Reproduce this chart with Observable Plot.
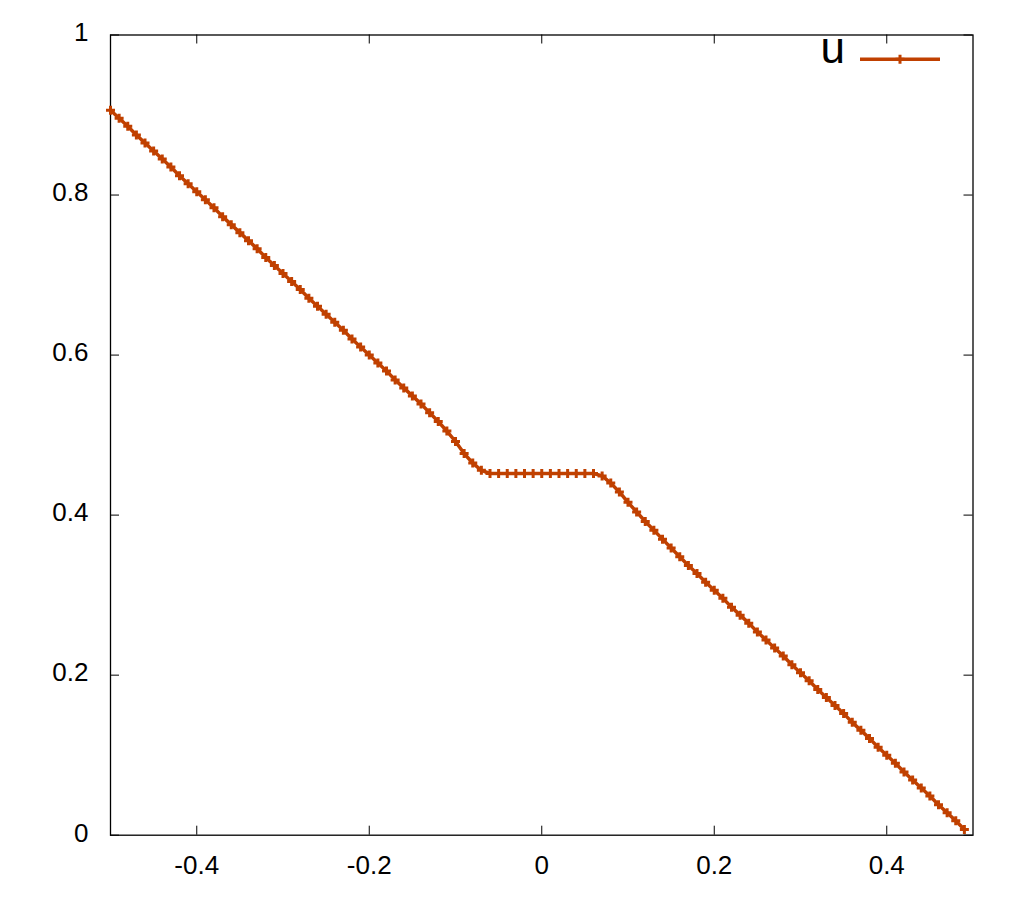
<!DOCTYPE html>
<html><head><meta charset="utf-8">
<script src="https://cdn.jsdelivr.net/npm/d3@7"></script>
<script src="https://cdn.jsdelivr.net/npm/@observablehq/plot@0.6"></script>
<style>body{margin:0;background:#fff;}</style>
</head><body><div id="chart"></div>
<script>
const xs = [
 -0.50,-0.49,-0.48,-0.47,-0.46,-0.45,-0.44,-0.43,-0.42,-0.41,
 -0.40,-0.39,-0.38,-0.37,-0.36,-0.35,-0.34,-0.33,-0.32,-0.31,
 -0.30,-0.29,-0.28,-0.27,-0.26,-0.25,-0.24,-0.23,-0.22,-0.21,
 -0.20,-0.19,-0.18,-0.17,-0.16,-0.15,-0.14,-0.13,-0.12,-0.11,
 -0.10,-0.09,-0.08,-0.07,-0.06,-0.05,-0.04,-0.03,-0.02,-0.01,
  0.00, 0.01, 0.02, 0.03, 0.04, 0.05, 0.06, 0.07, 0.08, 0.09,
  0.10, 0.11, 0.12, 0.13, 0.14, 0.15, 0.16, 0.17, 0.18, 0.19,
  0.20, 0.21, 0.22, 0.23, 0.24, 0.25, 0.26, 0.27, 0.28, 0.29,
  0.30, 0.31, 0.32, 0.33, 0.34, 0.35, 0.36, 0.37, 0.38, 0.39,
  0.40, 0.41, 0.42, 0.43, 0.44, 0.45, 0.46, 0.47, 0.48, 0.49
];
const uValues = [
 0.906,0.896,0.886,0.875,0.865,0.855,0.845,0.835,0.824,0.814,
 0.804,0.794,0.784,0.773,0.763,0.753,0.743,0.733,0.722,0.712,
 0.702,0.692,0.682,0.671,0.661,0.651,0.641,0.631,0.620,0.610,
 0.600,0.590,0.580,0.569,0.559,0.549,0.539,0.528,0.517,0.505,
 0.492,0.477,0.465,0.456,0.452,0.452,0.452,0.452,0.452,0.452,
 0.452,0.452,0.452,0.452,0.452,0.452,0.452,0.449,0.440,0.429,
 0.416,0.404,0.392,0.381,0.370,0.359,0.348,0.337,0.327,0.316,
 0.306,0.296,0.285,0.275,0.265,0.254,0.244,0.234,0.224,0.213,
 0.203,0.193,0.182,0.172,0.162,0.152,0.141,0.131,0.121,0.110,
 0.100,0.090,0.079,0.069,0.059,0.049,0.038,0.028,0.018,0.007
];
const xTicks = [-0.4, -0.2, 0, 0.2, 0.4];
const yTicks = [0, 0.2, 0.4, 0.6, 0.8, 1];
const seriesName = "u";

const data = xs.map((x, i) => ({x, u: uValues[i]}));

const W = 1024, H = 900, mL = 110, mR = 51.5, mT = 34.5, mB = 65.3;
const pw = W - mL - mR, ph = H - mT - mB;
const color = "#c04000";
const font = "'Liberation Sans', Arial, sans-serif";
const plus = {draw(ctx, size) {
  const r = Math.sqrt(size / Math.PI);
  ctx.moveTo(-r, 0); ctx.lineTo(r, 0);
  ctx.moveTo(0, -r); ctx.lineTo(0, r);
}};

const chart = Plot.plot({
  width: W, height: H,
  marginLeft: mL, marginRight: mR, marginTop: mT, marginBottom: mB,
  style: {fontFamily: font, fontSize: "26px", background: "#fff", color: "#000"},
  x: {domain: [-0.5, 0.5]},
  y: {domain: [0, 1]},
  marks: [
    Plot.axisX(xTicks, {tickSize: 0, tickPadding: 20, fontSize: 26, fontFamily: font, fill: "#000",
      tickFormat: d => String(d), label: null}),
    Plot.axisY(yTicks, {tickSize: 0, tickPadding: 22, dy: -2, fontSize: 26, fontFamily: font, fill: "#000",
      tickFormat: d => String(d), label: null}),
    Plot.tickX(xTicks, {x: d => d, insetTop: ph - 9, stroke: "#000"}),
    Plot.tickX(xTicks, {x: d => d, insetBottom: ph - 9, stroke: "#000"}),
    Plot.tickY(yTicks, {y: d => d, insetRight: pw - 9, stroke: "#000"}),
    Plot.tickY(yTicks, {y: d => d, insetLeft: pw - 9, stroke: "#000"}),
    Plot.frame({stroke: "#000", strokeWidth: 1.3}),
    Plot.line(data, {x: "x", y: "u", stroke: color, strokeWidth: 3.5}),
    Plot.dot(data, {x: "x", y: "u", symbol: plus, r: 4.5, stroke: color, strokeWidth: 3, fill: "none"})
  ]
});

// legend (key) in the top-right corner, gnuplot style
const svg = d3.select(chart);
const g = svg.append("g");
const legY = 59.3, lx1 = W - mR - 112.5, lx2 = W - mR - 32.5, lxm = (lx1 + lx2) / 2;
g.append("text").attr("x", lx1 - 15).attr("y", 63).attr("text-anchor", "end")
  .attr("font-size", 44).attr("font-family", font).attr("fill", "#000").text(seriesName);
g.append("line").attr("x1", lx1).attr("x2", lx2).attr("y1", legY).attr("y2", legY)
  .attr("stroke", color).attr("stroke-width", 3.5);
g.append("path").attr("d", `M${lxm},${legY - 4.5}v9M${lxm - 4.5},${legY}h9`)
  .attr("stroke", color).attr("stroke-width", 3).attr("fill", "none");

document.getElementById("chart").appendChild(chart);
</script>
</body></html>
